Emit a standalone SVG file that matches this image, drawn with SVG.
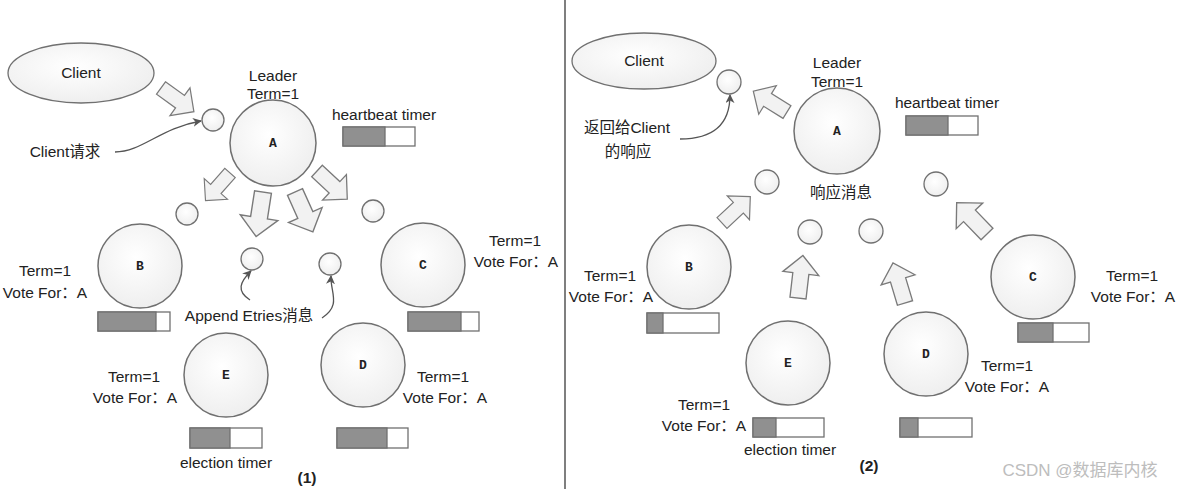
<svg xmlns="http://www.w3.org/2000/svg" xmlns:xlink="http://www.w3.org/1999/xlink" width="1181" height="489" viewBox="0 0 1181 489">
<style>
text{font-family:"Liberation Sans","Noto Sans CJK SC",sans-serif;font-size:15.5px;fill:#222;text-anchor:middle}
.id{font-family:"Liberation Mono",monospace;font-weight:bold;font-size:13px}
.b{font-weight:bold}
.node{fill:url(#g);stroke:#707070;stroke-width:1.5}
.msg{fill:url(#g);stroke:#707070;stroke-width:1.3}
.ell{fill:url(#g);stroke:#707070;stroke-width:1.3}
.blk{fill:#f2f2f2;stroke:#7a7a7a;stroke-width:1.4;stroke-linejoin:miter}
.bar{fill:#fff;stroke:#707070;stroke-width:1.3}
.fill{fill:#909090;stroke:#707070;stroke-width:1.3}
.cur{fill:none;stroke:#555;stroke-width:1.3}
.wm{fill:#bdbdbd;font-size:17px}
</style>
<defs>
<radialGradient id="g" cx="0.45" cy="0.4" r="0.7">
<stop offset="0" stop-color="#ffffff"/>
<stop offset="1" stop-color="#ececec"/>
</radialGradient>
<path id="blk" d="M0,-8.5 L26,-8.5 L26,-19 L45,0 L26,19 L26,8.5 L0,8.5 Z"/>
<marker id="ah" viewBox="0 0 10 10" refX="9" refY="5" markerWidth="9" markerHeight="9" orient="auto" markerUnits="userSpaceOnUse">
<path d="M0,0 L10,5 L0,10 L3,5 Z" fill="#555"/>
</marker>
</defs>
<rect width="1181" height="489" fill="#fff"/>
<line x1="565" y1="0" x2="565" y2="489" stroke="#555" stroke-width="1.5"/>

<!-- Left panel -->
<g id="L-client"><ellipse class="ell" cx="81" cy="73" rx="73" ry="30"/><text x="81" y="78">Client</text></g>
<g id="L-A"><text x="273" y="81">Leader</text><text x="273" y="99">Term=1</text><circle class="node" cx="273" cy="143" r="43"/><text class="id" x="273" y="147">A</text>
<text x="384" y="120">heartbeat timer</text><rect class="bar" x="343" y="127" width="72" height="19"/><rect class="fill" x="343" y="127" width="42" height="19"/></g>
<g id="L-B"><circle class="node" cx="140" cy="266" r="42"/><text class="id" x="140" y="270">B</text><text x="45" y="276">Term=1</text><text x="45" y="298">Vote For：A</text>
<rect class="bar" x="98" y="312" width="72" height="19"/><rect class="fill" x="98" y="312" width="58" height="19"/></g>
<g id="L-C"><circle class="node" cx="423" cy="265" r="42"/><text class="id" x="423" y="269">C</text><text x="515" y="246">Term=1</text><text x="516" y="267">Vote For：A</text>
<rect class="bar" x="408" y="312" width="71" height="19"/><rect class="fill" x="408" y="312" width="53" height="19"/></g>
<g id="L-E"><circle class="node" cx="226" cy="375" r="42"/><text class="id" x="226" y="379">E</text><text x="134" y="382">Term=1</text><text x="135" y="403">Vote For：A</text>
<rect class="bar" x="190" y="428" width="72" height="20"/><rect class="fill" x="190" y="428" width="40" height="20"/><text x="226" y="468">election timer</text></g>
<g id="L-D"><circle class="node" cx="363" cy="365" r="42"/><text class="id" x="363" y="369">D</text><text x="443" y="382">Term=1</text><text x="445" y="403">Vote For：A</text>
<rect class="bar" x="337" y="428" width="71" height="20"/><rect class="fill" x="337" y="428" width="50" height="20"/></g>
<g id="L-msgs"><circle class="msg" cx="213" cy="120" r="11"/><circle class="msg" cx="187" cy="214" r="11"/><circle class="msg" cx="252" cy="259" r="11"/><circle class="msg" cx="330" cy="264" r="11"/><circle class="msg" cx="373" cy="211" r="11"/></g>
<g id="L-labels"><text x="65" y="157">Client请求</text><text x="249" y="321">Append Etries消息</text><text class="b" x="307" y="483">(1)</text></g>

<!-- Right panel -->
<g id="R-client"><ellipse class="ell" cx="644" cy="61" rx="72" ry="28"/><text x="644" y="66">Client</text></g>
<g id="R-A"><text x="837" y="68">Leader</text><text x="837" y="87">Term=1</text><circle class="node" cx="837" cy="131" r="43"/><text class="id" x="837" y="135">A</text>
<text x="947" y="108">heartbeat timer</text><rect class="bar" x="906" y="116" width="72" height="19"/><rect class="fill" x="906" y="116" width="42" height="19"/></g>
<g id="R-B"><circle class="node" cx="689" cy="267" r="42"/><text class="id" x="689" y="271">B</text><text x="610" y="281">Term=1</text><text x="611" y="302">Vote For：A</text>
<rect class="bar" x="647" y="313" width="72" height="20"/><rect class="fill" x="647" y="313" width="16" height="20"/></g>
<g id="R-C"><circle class="node" cx="1033" cy="277" r="42"/><text class="id" x="1033" y="281">C</text><text x="1132" y="281">Term=1</text><text x="1133" y="302">Vote For：A</text>
<rect class="bar" x="1018" y="323" width="71" height="19"/><rect class="fill" x="1018" y="323" width="35" height="19"/></g>
<g id="R-E"><circle class="node" cx="788" cy="363" r="42"/><text class="id" x="788" y="367">E</text><text x="704" y="410">Term=1</text><text x="704" y="431">Vote For：A</text>
<rect class="bar" x="753" y="418" width="71" height="19"/><rect class="fill" x="753" y="418" width="23" height="19"/><text x="790" y="455">election timer</text></g>
<g id="R-D"><circle class="node" cx="926" cy="354" r="42"/><text class="id" x="926" y="358">D</text><text x="1007" y="371">Term=1</text><text x="1007" y="392">Vote For：A</text>
<rect class="bar" x="900" y="418" width="72" height="19"/><rect class="fill" x="900" y="418" width="18" height="19"/></g>
<g id="R-msgs"><circle class="msg" cx="729" cy="82" r="12"/><circle class="msg" cx="767" cy="182" r="12"/><circle class="msg" cx="810" cy="232" r="12"/><circle class="msg" cx="871" cy="231" r="12"/><circle class="msg" cx="936" cy="184" r="12"/></g>
<g id="R-labels"><text x="627" y="133">返回给Client</text><text x="628" y="157">的响应</text><text x="841" y="198">响应消息</text><text class="b" x="869" y="471">(2)</text></g>

<!-- Connectors -->
<g id="connectors">
<use xlink:href="#blk" class="blk" transform="translate(161,88) rotate(35.7) scale(0.9)"/>
<use xlink:href="#blk" class="blk" transform="translate(230,173) rotate(131.6) scale(0.82)"/>
<use xlink:href="#blk" class="blk" transform="translate(263,192) rotate(98.8)"/>
<use xlink:href="#blk" class="blk" transform="translate(295,192) rotate(65.8) scale(0.97)"/>
<use xlink:href="#blk" class="blk" transform="translate(317,171) rotate(43) scale(0.92)"/>
<use xlink:href="#blk" class="blk" transform="translate(787,112) rotate(211.7) scale(0.88)"/>
<use xlink:href="#blk" class="blk" transform="translate(722,223) rotate(-43) scale(0.86)"/>
<use xlink:href="#blk" class="blk" transform="translate(798,298) rotate(-83.4) scale(0.95)"/>
<use xlink:href="#blk" class="blk" transform="translate(905,303) rotate(-106.7) scale(0.93)"/>
<use xlink:href="#blk" class="blk" transform="translate(987,234) rotate(-134) scale(0.97)"/>
<path class="cur" d="M115,152 C142,152 160,128 201,121" marker-end="url(#ah)"/>
<path class="cur" d="M250,300 C236,291 240,282 251,271" marker-end="url(#ah)"/>
<path class="cur" d="M322,318 C342,305 330,292 331,276" marker-end="url(#ah)"/>
<path class="cur" d="M680,139 C712,139 730,125 730,95" marker-end="url(#ah)"/>
</g>
<text class="wm" x="1080" y="476">CSDN @数据库内核</text>
</svg>
